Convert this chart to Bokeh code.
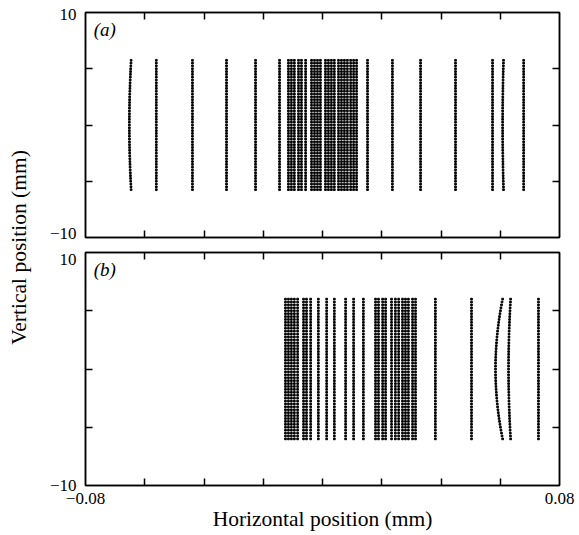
import math
from bokeh.plotting import figure
from bokeh.layouts import row, column
from bokeh.models import Range1d, LinearAxis, FixedTicker, Label, ColumnDataSource
from bokeh.embed import file_html
from bokeh.resources import INLINE

# ---- axes ----
x_ticks = [-0.06, -0.04, -0.02, 0.0, 0.02, 0.04, 0.06]
x_label_ticks = [-0.08, 0.08]
x_labels = {-0.08: "\u22120.08", 0.08: "0.08"}
y_ticks = [-5, 0, 5]
y_label_text = ["\u221210", "10"]
# where the "-10"/"10" labels are anchored (nudged inside the frame, as typeset)
y_label_anchor_a = [-9.64, 9.82]
y_label_anchor_b = [-10.0, 9.4]

# ---- data (mm) ----
# column positions (mm) and mid-height bend (mm) for panel (a)
cols_a = [-0.0646, -0.0561, -0.0439, -0.0324, -0.0226, -0.0145,
          -0.0115, -0.0105, -0.0095, -0.0081, -0.0071, -0.0057,
          -0.0037, -0.0027, -0.0017, -0.0007, 0.0010, 0.0020, 0.0030,
          0.0040, 0.0054, 0.0064, 0.0074, 0.0084, 0.0095, 0.0105, 0.0115,
          0.0152, 0.0236, 0.0331, 0.0449, 0.0574, 0.0611, 0.0679]
bend_a = [-0.0006, 0, 0, 0, 0, 0,
          0, 0, 0, 0, 0, 0,
          0, 0, 0, 0, 0, 0, 0,
          0, 0, 0, 0, 0, 0, 0, 0,
          0, 0, 0, 0, 0, -0.0003, 0]
rows_a = [-5.75, -5.5, -5.25, -5.0, -4.75, -4.5, -4.25, -4.0, -3.75, -3.5,
          -3.25, -3.0, -2.75, -2.5, -2.25, -2.0, -1.75, -1.5, -1.25, -1.0,
          -0.75, -0.5, -0.25, 0.0, 0.25, 0.5, 0.75, 1.0, 1.25, 1.5, 1.75,
          2.0, 2.25, 2.5, 2.75, 3.0, 3.25, 3.5, 3.75, 4.0, 4.25, 4.5, 4.75,
          5.0, 5.25, 5.5, 5.75]

# panel (b)
cols_b = [-0.0125, -0.0115, -0.0105, -0.0095, -0.0084, -0.0064, -0.0054,
          -0.0040, -0.0014, 0.0014, 0.0040, 0.0078, 0.0105, 0.0138,
          0.0179, 0.0189, 0.0203, 0.0213, 0.0233, 0.0246, 0.0257, 0.0270,
          0.0280, 0.0290, 0.0304, 0.0314, 0.0381, 0.0503, 0.0608, 0.0635,
          0.0729]
bend_b = [0, 0, 0, 0, 0, 0, 0,
          0, 0, 0, 0, 0, 0, 0,
          0, 0, 0, 0, 0, 0, 0, 0,
          0, 0, 0, 0, 0, 0, -0.0024, -0.0007,
          0]
rows_b = [-6.0, -5.75, -5.5, -5.25, -5.0, -4.75, -4.5, -4.25, -4.0, -3.75,
          -3.5, -3.25, -3.0, -2.75, -2.5, -2.25, -2.0, -1.75, -1.5, -1.25,
          -1.0, -0.75, -0.5, -0.25, 0.0, 0.25, 0.5, 0.75, 1.0, 1.25, 1.5,
          1.75, 2.0, 2.25, 2.5, 2.75, 3.0, 3.25, 3.5, 3.75, 4.0, 4.25, 4.5,
          4.75, 5.0, 5.25, 5.5, 5.75, 6.0]

FONT = "Liberation Serif"


def dots(cols, bends, rows):
    top = max(abs(r) for r in rows)
    xs, ys = [], []
    for c, b in zip(cols, bends):
        for r in rows:
            xs.append(c + b * (1 - (r / top) ** 2))
            ys.append(r)
    return ColumnDataSource(dict(x=xs, y=ys))


def style_axis(ax, major, minor):
    ax.ticker = FixedTicker(ticks=major, minor_ticks=minor)
    ax.axis_line_color = "black"
    ax.axis_line_width = 1.5
    ax.major_tick_in = 7
    ax.major_tick_out = 0
    ax.minor_tick_in = 7
    ax.minor_tick_out = 0
    ax.major_tick_line_width = 1.5
    ax.minor_tick_line_width = 1.5
    ax.major_tick_line_color = "black"
    ax.minor_tick_line_color = "black"
    ax.major_label_text_font = FONT
    ax.major_label_text_font_size = "17px"
    ax.major_label_text_color = "black"


def panel(height, top, bottom, show_x_labels, tag, anchors):
    p = figure(width=541, height=height,
               x_range=Range1d(-0.08, 0.08), y_range=Range1d(-10, 10),
               toolbar_location=None, output_backend="svg",
               min_border_left=47, min_border_right=20,
               min_border_top=top, min_border_bottom=bottom)
    p.grid.visible = False
    p.outline_line_color = "black"
    p.outline_line_width = 1.5
    p.add_layout(LinearAxis(), "above")
    p.add_layout(LinearAxis(), "right")
    for ax in p.xaxis:
        style_axis(ax, [], x_ticks)
    for ax in p.yaxis:
        style_axis(ax, [], y_ticks)
    ly = p.left[0]
    style_axis(ly, anchors, y_ticks)
    ly.major_tick_in = 0
    ly.major_label_overrides = dict(zip(anchors, y_label_text))
    ly.major_label_standoff = 9
    if show_x_labels:
        bx = p.below[0]
        style_axis(bx, x_label_ticks, x_ticks)
        bx.major_tick_in = 0
        bx.major_label_overrides = x_labels
        bx.major_label_standoff = 7
        bx.axis_label = "Horizontal position (mm)"
        bx.axis_label_text_font = FONT
        bx.axis_label_text_font_size = "21.5px"
        bx.axis_label_text_font_style = "normal"
        bx.axis_label_text_color = "black"
        bx.axis_label_standoff = 0
    p.add_layout(Label(x=-0.0772, y=9.4, text=tag, text_font=FONT,
                       text_font_style="italic", text_font_size="19px",
                       text_baseline="top", text_align="left",
                       text_color="black"))
    return p


pa = panel(245, 12, 8, False, "(a)", y_label_anchor_a)
pa.scatter("x", "y", source=dots(cols_a, bend_a, rows_a), marker="square",
           size=1.7, color="black")

pb = panel(290, 7, 50, True, "(b)", y_label_anchor_b)
pb.scatter("x", "y", source=dots(cols_b, bend_b, rows_b), marker="square",
           size=1.7, color="black")

lab = figure(width=38, height=535, x_range=Range1d(0, 1), y_range=Range1d(0, 1),
             toolbar_location=None, output_backend="svg",
             x_axis_location=None, y_axis_location=None,
             min_border_left=0, min_border_right=0, min_border_top=0,
             min_border_bottom=0)
lab.grid.visible = False
lab.outline_line_color = None
lab.add_layout(Label(x=0.48, y=(535 - 247) / 535, text="Vertical position (mm)",
                     angle=math.pi / 2, text_align="center",
                     text_baseline="middle", text_font=FONT,
                     text_font_size="21.5px", text_color="black"))

layout = row(lab, column(pa, pb))
open("out.html", "w").write(file_html(layout, INLINE))
